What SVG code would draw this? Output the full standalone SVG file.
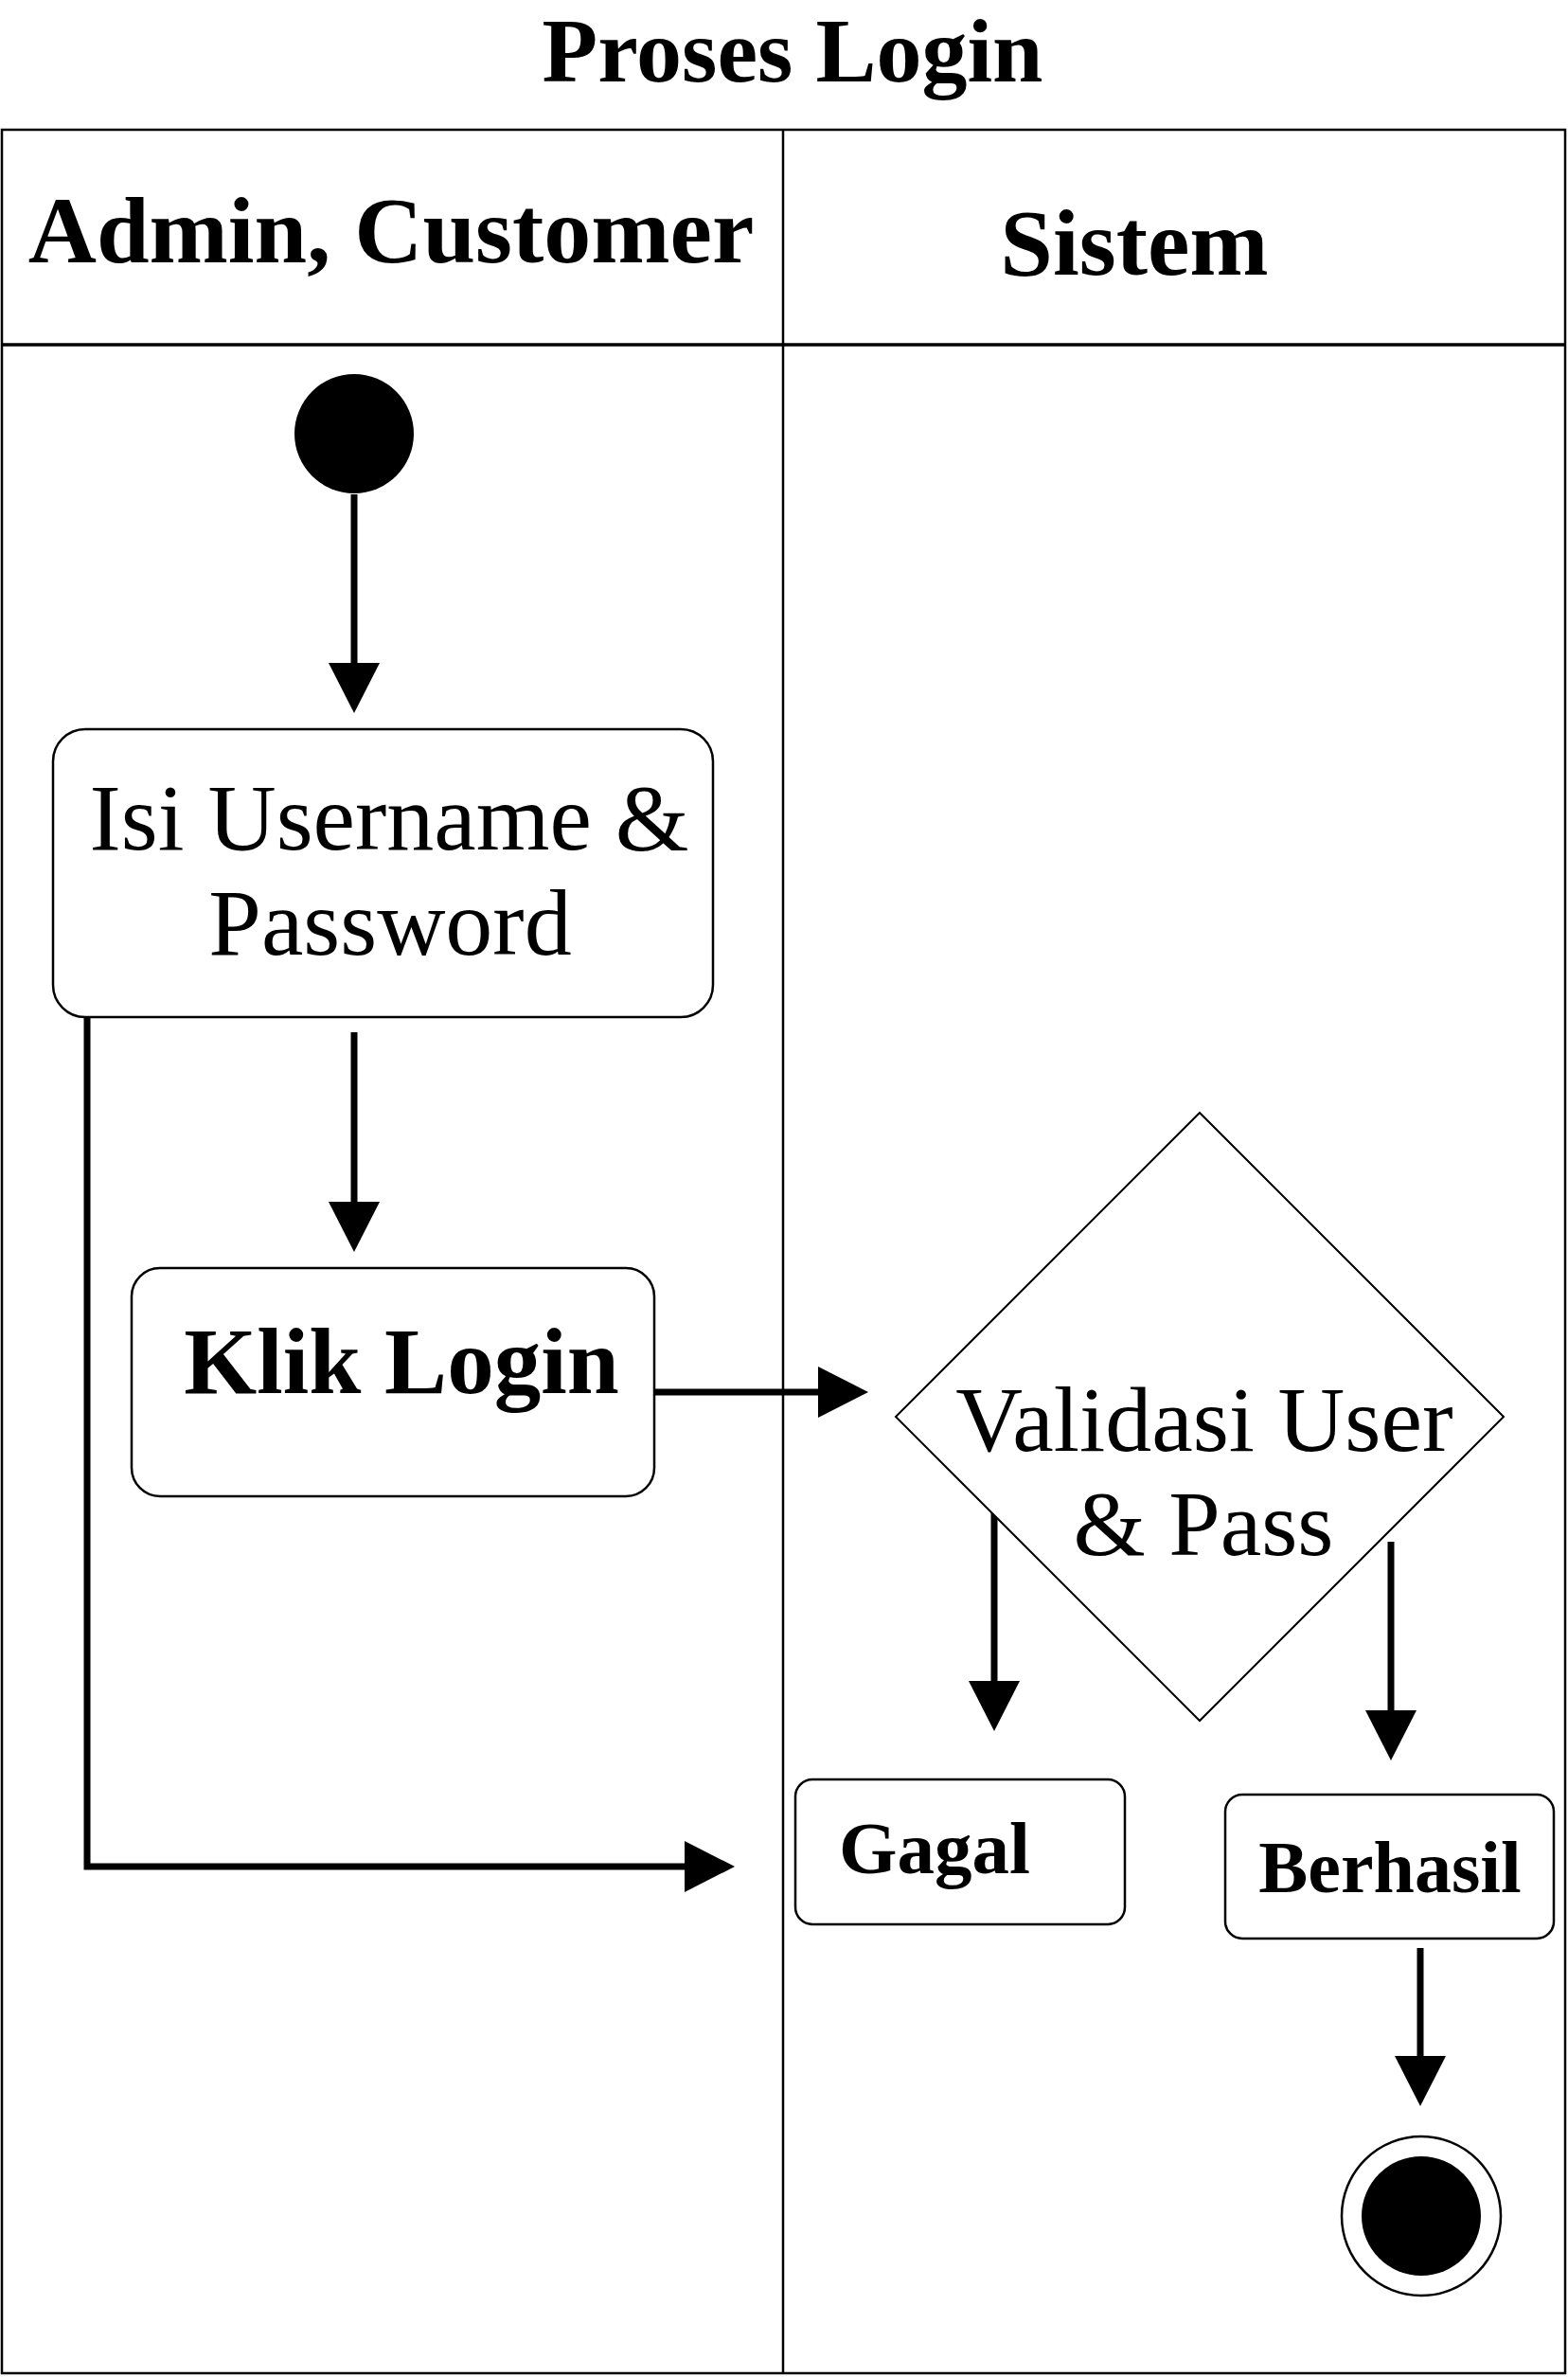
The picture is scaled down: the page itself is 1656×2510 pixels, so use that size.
<svg xmlns="http://www.w3.org/2000/svg" width="1656" height="2510" viewBox="0 0 1656 2510">
<style>
.t{font-family:"Liberation Serif","Times New Roman",serif;fill:#000;text-anchor:middle}
.b{font-weight:bold}
.box{fill:#fff;stroke:#000;stroke-width:2.5}
.con{fill:none;stroke:#000;stroke-width:7}
.lane{fill:none;stroke:#000;stroke-width:2.5}
</style>
<defs>
<marker id="ah" markerUnits="userSpaceOnUse" markerWidth="56" markerHeight="58" viewBox="0 -29 56 58" refX="1" refY="0" orient="auto">
<path d="M0,-27 L53,0 L0,27 Z" fill="#000"/>
</marker>
</defs>
<rect width="1656" height="2510" fill="#fff"/>
<g id="title"><text class="t b" x="837" y="86" font-size="96">Proses Login</text></g>
<g id="swimlanes">
<rect class="lane" x="2" y="137" width="1651" height="2369"/>
<line class="lane" x1="827" y1="137" x2="827" y2="2506"/>
<line x1="2" y1="364" x2="1653" y2="364" stroke="#000" stroke-width="3.5"/>
<text class="t b" x="413" y="277" font-size="100">Admin, Customer</text>
<text class="t b" x="1198" y="290" font-size="100">Sistem</text>
</g>
<g id="connectors">
<line class="con" x1="374" y1="522" x2="374" y2="701" marker-end="url(#ah)"/>
<line class="con" x1="374" y1="1090" x2="374" y2="1270" marker-end="url(#ah)"/>
<line class="con" x1="686" y1="1470" x2="865" y2="1470" marker-end="url(#ah)"/>
<polyline class="con" points="92,1074 92,1971 724,1971" marker-end="url(#ah)"/>
<line class="con" x1="1050" y1="1596" x2="1050" y2="1776" marker-end="url(#ah)"/>
<line class="con" x1="1469" y1="1628" x2="1469" y2="1807" marker-end="url(#ah)"/>
<line class="con" x1="1500" y1="2057" x2="1500" y2="2172" marker-end="url(#ah)"/>
</g>
<g id="start"><circle cx="374" cy="458" r="63" fill="#000"/></g>
<g id="isi-username">
<rect class="box" x="56" y="770" width="697" height="304" rx="34"/>
<text class="t" x="411" y="897" font-size="100">Isi Username &amp;</text>
<text class="t" x="412" y="1008" font-size="100">Password</text>
</g>
<g id="klik-login">
<rect class="box" x="139" y="1339" width="552" height="241" rx="30"/>
<text class="t b" x="424" y="1471" font-size="99">Klik Login</text>
</g>
<g id="validasi">
<polygon points="1267,1175 1588,1496 1267,1817 946,1496" fill="#fff" stroke="#000" stroke-width="2"/>
<text class="t" x="1272" y="1532" font-size="98">Validasi User</text>
<text class="t" x="1271" y="1642" font-size="98">&amp; Pass</text>
</g>
<g id="gagal">
<rect class="box" x="840" y="1879" width="348" height="153" rx="18"/>
<text class="t b" x="987" y="1978" font-size="79">Gagal</text>
</g>
<g id="berhasil">
<rect class="box" x="1294" y="1895" width="347" height="152" rx="18"/>
<text class="t b" x="1468" y="1998" font-size="78">Berhasil</text>
</g>
<g id="end">
<circle cx="1501" cy="2340" r="84" fill="#fff" stroke="#000" stroke-width="2.5"/>
<circle cx="1501" cy="2340" r="63" fill="#000"/>
</g>
</svg>
